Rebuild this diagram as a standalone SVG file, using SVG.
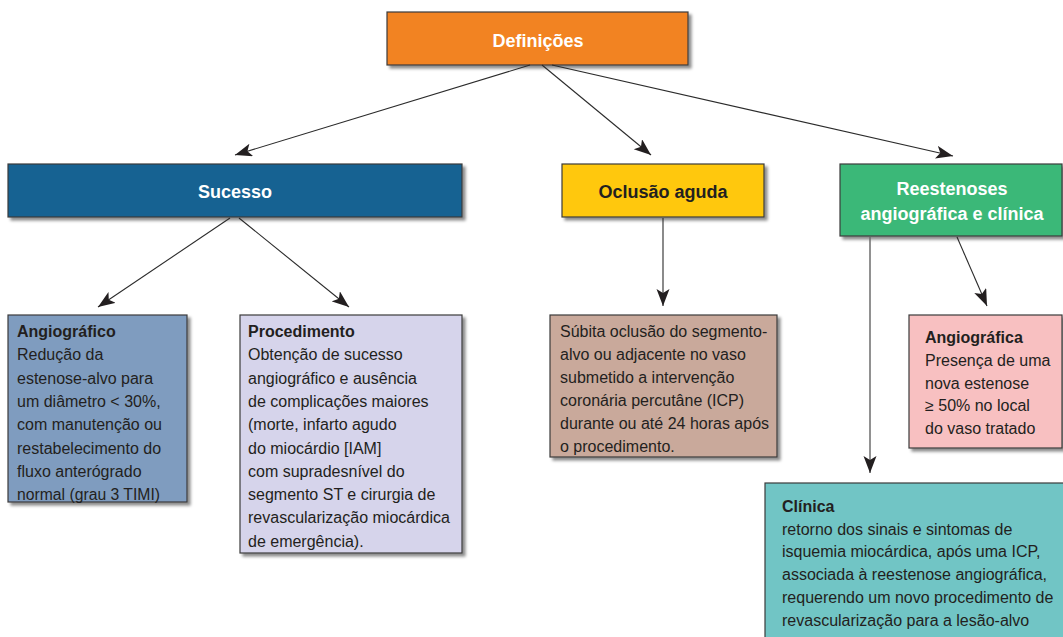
<svg xmlns="http://www.w3.org/2000/svg" width="1063" height="637" viewBox="0 0 1063 637">
<defs>
<filter id="sh" x="-5%" y="-5%" width="115%" height="120%">
<feDropShadow dx="3" dy="3" stdDeviation="1.6" flood-color="#000" flood-opacity="0.45"/>
</filter>
<marker id="ah" markerUnits="userSpaceOnUse" markerWidth="18" markerHeight="14" refX="17" refY="6.5" orient="auto">
<path d="M0,0 L17,6.5 L0,13 L4,6.5 Z" fill="#231f20"/>
</marker>
</defs>
<style>
.box{stroke:#3b3b3b;stroke-width:1.2;filter:url(#sh)}
.title{font-family:"Liberation Sans",Arial,sans-serif;font-weight:bold;font-size:18px;text-anchor:middle}
.body{font-family:"Liberation Sans",Arial,sans-serif;font-size:16px;fill:#231f20}
.hd{font-weight:bold}
.conn{stroke:#2b2b2b;stroke-width:1.1;fill:none;marker-end:url(#ah)}
</style>
<rect width="1063" height="637" fill="#fff"/>

<g id="definicoes">
<rect class="box" x="387" y="12" width="301" height="53" fill="#f28324"/>
<text class="title" x="538" y="47" fill="#fff" font-size="20">Definições</text>
</g>

<g id="sucesso">
<rect class="box" x="8" y="164" width="454" height="53" fill="#156292"/>
<text class="title" x="235" y="198" fill="#fff">Sucesso</text>
</g>

<g id="oclusao">
<rect class="box" x="562" y="164" width="202" height="53" fill="#ffc80b"/>
<text class="title" x="663" y="198" fill="#231f20">Oclusão aguda</text>
</g>

<g id="reestenoses">
<rect class="box" x="840" y="164" width="222" height="72" fill="#3bb878"/>
<text class="title" x="952" y="195" fill="#fff">Reestenoses</text>
<text class="title" x="952" y="220" fill="#fff">angiográfica e clínica</text>
</g>

<g id="angiografico">
<rect class="box" x="8" y="315" width="179" height="187" fill="#7f9cbf"/>
<text class="body" x="17" y="337"><tspan class="hd">Angiográfico</tspan><tspan x="17" dy="23.3">Redução da</tspan><tspan x="17" dy="23.3">estenose-alvo para</tspan><tspan x="17" dy="23.3">um diâmetro &lt; 30%,</tspan><tspan x="17" dy="23.3">com manutenção ou</tspan><tspan x="17" dy="23.3">restabelecimento do</tspan><tspan x="17" dy="23.3">fluxo anterógrado</tspan></text>
<text class="body" x="17" y="500.1" textLength="143" lengthAdjust="spacingAndGlyphs">normal (grau 3 TIMI)</text>
</g>

<g id="procedimento">
<rect class="box" x="240" y="315" width="222" height="238" fill="#d6d4eb"/>
<text class="body" x="248" y="337"><tspan class="hd">Procedimento</tspan><tspan x="248" dy="23.3">Obtenção de sucesso</tspan><tspan x="248" dy="23.3">angiográfico e ausência</tspan><tspan x="248" dy="23.3">de complicações maiores</tspan><tspan x="248" dy="23.3">(morte, infarto agudo</tspan><tspan x="248" dy="23.3">do miocárdio [IAM]</tspan><tspan x="248" dy="23.3">com supradesnível do</tspan><tspan x="248" dy="23.3">segmento ST e cirurgia de</tspan><tspan x="248" dy="23.3">revascularização miocárdica</tspan><tspan x="248" dy="23.3">de emergência).</tspan></text>
</g>

<g id="subita">
<rect class="box" x="550" y="315" width="227" height="142" fill="#c9a99b"/>
<text class="body" x="560" y="337"><tspan>Súbita oclusão do segmento-</tspan><tspan x="560" dy="23">alvo ou adjacente no vaso</tspan><tspan x="560" dy="23">submetido a intervenção</tspan><tspan x="560" dy="23">coronária percutâne (ICP)</tspan><tspan x="560" dy="23">durante ou até 24 horas após</tspan><tspan x="560" dy="23">o procedimento.</tspan></text>
</g>

<g id="angiografica">
<rect class="box" x="909" y="315" width="153" height="133" fill="#f8c0c1"/>
<text class="body" x="925" y="343"><tspan class="hd">Angiográfica</tspan><tspan x="925" dy="22.8">Presença de uma</tspan><tspan x="925" dy="22.8">nova estenose</tspan><tspan x="925" dy="22.8">≥ 50% no local</tspan><tspan x="925" dy="22.8">do vaso tratado</tspan></text>
</g>

<g id="clinica">
<rect class="box" x="765" y="483" width="310" height="170" fill="#71c5c5"/>
<text class="body" x="782" y="512"><tspan class="hd">Clínica</tspan><tspan x="782" dy="22.7">retorno dos sinais e sintomas de</tspan><tspan x="782" dy="22.7">isquemia miocárdica, após uma ICP,</tspan><tspan x="782" dy="22.7">associada à reestenose angiográfica,</tspan><tspan x="782" dy="22.7">requerendo um novo procedimento de</tspan><tspan x="782" dy="22.7">revascularização para a lesão-alvo</tspan></text>
</g>

<g id="connectors">
<line class="conn" x1="530" y1="65" x2="235" y2="155"/>
<line class="conn" x1="542" y1="65" x2="651" y2="155"/>
<line class="conn" x1="552" y1="65" x2="953" y2="156"/>
<line class="conn" x1="230" y1="218" x2="98" y2="307"/>
<line class="conn" x1="239" y1="218" x2="349" y2="307"/>
<line class="conn" x1="663" y1="218" x2="663" y2="306"/>
<line class="conn" x1="957" y1="237" x2="987" y2="306"/>
<line class="conn" x1="870" y1="237" x2="870" y2="473" style="stroke:#6d6d6d;stroke-width:1.5"/>
</g>
</svg>
